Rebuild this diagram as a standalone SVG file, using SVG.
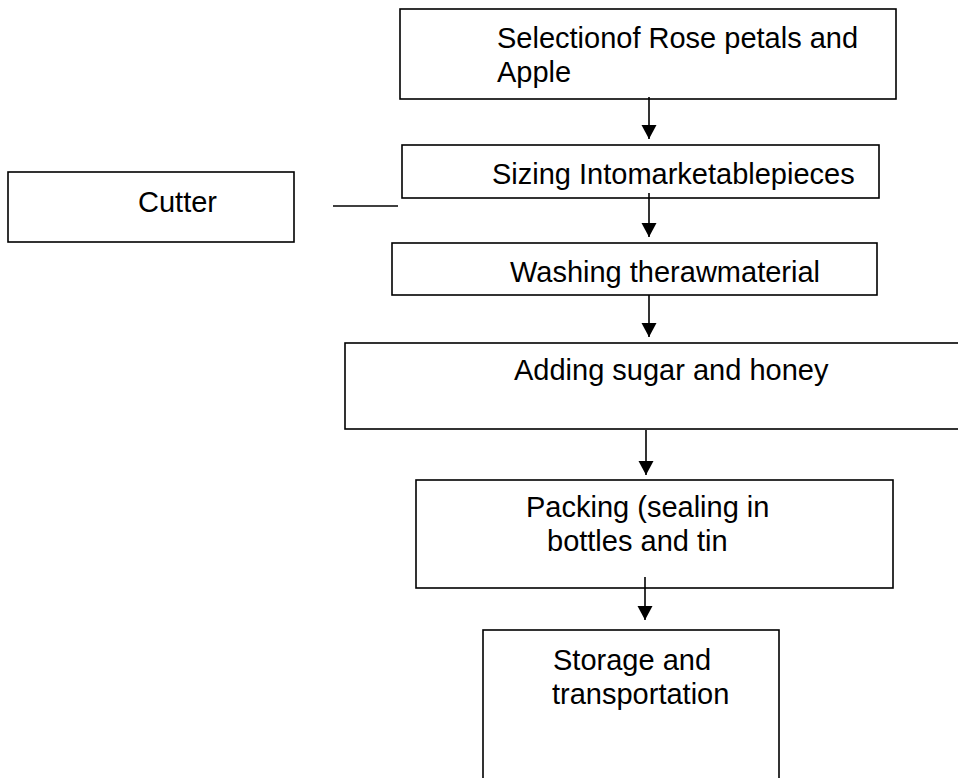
<svg xmlns="http://www.w3.org/2000/svg" width="958" height="778" viewBox="0 0 958 778">
<style>
.box{fill:#fff;stroke:#000;stroke-width:1.6}
.t{font-family:"Liberation Sans",Arial,sans-serif;font-size:29px;fill:#000}
.c{stroke:#000;stroke-width:1.6;fill:none}
</style>
<defs>
<marker id="ah" markerUnits="userSpaceOnUse" markerWidth="15" markerHeight="16" refX="14" refY="7.5" orient="auto" viewBox="0 0 15 15">
<path d="M0,0 L14,7.5 L0,15 Z" fill="#000"/>
</marker>
</defs>
<rect width="958" height="778" fill="#fff"/>
<g id="n1"><rect class="box" x="400" y="9" width="496" height="90"/><text class="t" x="497" y="48">Selectionof Rose petals and</text><text class="t" x="497" y="82">Apple</text></g>
<g id="n2"><rect class="box" x="402" y="145" width="477" height="53"/><text class="t" x="492" y="184">Sizing Intomarketablepieces</text></g>
<g id="cutter"><rect class="box" x="8" y="172" width="286" height="70"/><text class="t" x="138" y="212">Cutter</text></g>
<g id="n3"><rect class="box" x="392" y="243" width="485" height="52"/><text class="t" x="510" y="282">Washing therawmaterial</text></g>
<g id="n4"><rect class="box" x="345" y="343" width="630" height="86"/><text class="t" x="514" y="380">Adding sugar and honey</text></g>
<g id="n5"><rect class="box" x="416" y="480" width="477" height="108"/><text class="t" x="526" y="517">Packing (sealing in</text><text class="t" x="547" y="551">bottles and tin</text></g>
<g id="n6"><rect class="box" x="483" y="630" width="296" height="170"/><text class="t" x="553" y="670">Storage and</text><text class="t" x="552" y="704">transportation</text></g>
<g id="connectors">
<line class="c" x1="333" y1="206" x2="398" y2="206"/>
<line class="c" x1="649" y1="97" x2="649" y2="139" marker-end="url(#ah)"/>
<line class="c" x1="649" y1="193" x2="649" y2="237" marker-end="url(#ah)"/>
<line class="c" x1="649" y1="295" x2="649" y2="337" marker-end="url(#ah)"/>
<line class="c" x1="646" y1="430" x2="646" y2="475" marker-end="url(#ah)"/>
<line class="c" x1="645" y1="577" x2="645" y2="620" marker-end="url(#ah)"/>
</g>
</svg>
